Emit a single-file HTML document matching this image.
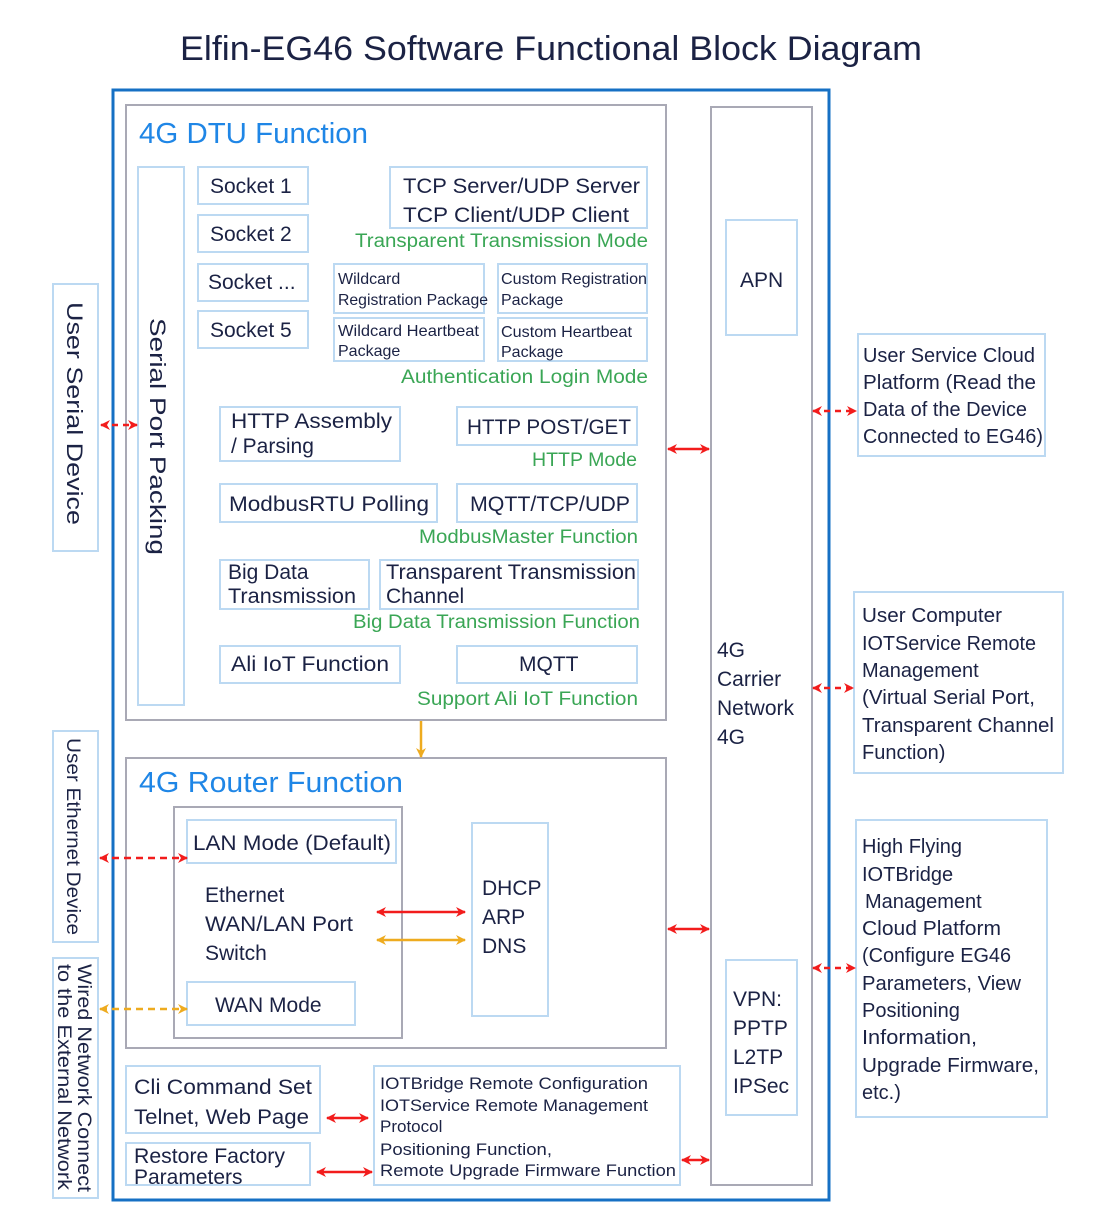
<!DOCTYPE html>
<html><head><meta charset="utf-8"><style>
html,body{margin:0;padding:0;background:#fff;}
svg{display:block;}
text{font-family:"Liberation Sans",sans-serif;fill:#1b2244;}
.g{fill:#3aa655;}
.b{fill:#1f86e6;}
</style></head><body>
<svg width="1100" height="1228" viewBox="0 0 1100 1228" xmlns="http://www.w3.org/2000/svg">
<defs>
<marker id="r" viewBox="0 0 10 10" refX="9" refY="5" markerWidth="4" markerHeight="4" orient="auto-start-reverse"><path d="M0,0 L10,5 L0,10 L3,5 z" fill="#f21c1c"/></marker>
<marker id="o" viewBox="0 0 10 10" refX="9" refY="5" markerWidth="4" markerHeight="4" orient="auto-start-reverse"><path d="M0,0 L10,5 L0,10 L3,5 z" fill="#eeab1f"/></marker>
</defs>
<text x="551" y="60" font-size="34" text-anchor="middle" textLength="742" lengthAdjust="spacingAndGlyphs">Elfin-EG46 Software Functional Block Diagram</text>

<g fill="none">
<rect x="113" y="90" width="716" height="1110" stroke="#1670c4" stroke-width="3"/>
<rect x="126" y="105" width="540" height="615" stroke="#a9a9b5" stroke-width="2"/>
<rect x="711" y="107" width="101" height="1078" stroke="#a9a9b5" stroke-width="2"/>
<rect x="126" y="758" width="540" height="290" stroke="#a9a9b5" stroke-width="2"/>
<rect x="174" y="807" width="228" height="231" stroke="#a9a9b5" stroke-width="2"/>
<g stroke="#bcd9f2" stroke-width="2">
<rect x="726" y="220" width="71" height="115"/>
<rect x="726" y="960" width="71" height="155"/>
<rect x="138" y="167" width="46" height="538"/>
<rect x="198" y="167" width="110" height="37"/>
<rect x="198" y="215" width="110" height="37"/>
<rect x="198" y="264" width="110" height="37"/>
<rect x="198" y="311" width="110" height="37"/>
<rect x="390" y="167" width="257" height="61"/>
<rect x="334" y="264" width="150" height="49"/>
<rect x="498" y="264" width="149" height="49"/>
<rect x="334" y="318" width="150" height="43"/>
<rect x="498" y="318" width="149" height="43"/>
<rect x="220" y="407" width="180" height="54"/>
<rect x="457" y="407" width="180" height="38"/>
<rect x="220" y="484" width="217" height="38"/>
<rect x="457" y="484" width="180" height="38"/>
<rect x="220" y="560" width="149" height="49"/>
<rect x="380" y="560" width="258" height="49"/>
<rect x="220" y="646" width="180" height="37"/>
<rect x="457" y="646" width="180" height="37"/>
<rect x="187" y="820" width="209" height="43"/>
<rect x="187" y="982" width="168" height="43"/>
<rect x="472" y="823" width="76" height="193"/>
<rect x="126" y="1066" width="194" height="67"/>
<rect x="126" y="1143" width="184" height="42"/>
<rect x="374" y="1066" width="306" height="119"/>
<rect x="53" y="284" width="45" height="267"/>
<rect x="53" y="731" width="45" height="211"/>
<rect x="53" y="958" width="45" height="240"/>
<rect x="858" y="334" width="187" height="122"/>
<rect x="854" y="592" width="209" height="181"/>
<rect x="856" y="820" width="191" height="297"/>
</g>
</g>

<!-- arrows -->
<g fill="none" stroke-width="2.5">
<line x1="101" y1="425" x2="137" y2="425" stroke="#f21c1c" stroke-dasharray="6,5" marker-start="url(#r)" marker-end="url(#r)"/>
<line x1="668" y1="449" x2="709" y2="449" stroke="#f21c1c" marker-start="url(#r)" marker-end="url(#r)"/>
<line x1="813" y1="411" x2="856" y2="411" stroke="#f21c1c" stroke-dasharray="6,5" marker-start="url(#r)" marker-end="url(#r)"/>
<line x1="813" y1="688" x2="853" y2="688" stroke="#f21c1c" stroke-dasharray="6,5" marker-start="url(#r)" marker-end="url(#r)"/>
<line x1="813" y1="968" x2="855" y2="968" stroke="#f21c1c" stroke-dasharray="6,5" marker-start="url(#r)" marker-end="url(#r)"/>
<line x1="421" y1="721" x2="421" y2="757" stroke="#eeab1f" marker-end="url(#o)"/>
<line x1="668" y1="929" x2="709" y2="929" stroke="#f21c1c" marker-start="url(#r)" marker-end="url(#r)"/>
<line x1="100" y1="858" x2="187" y2="858" stroke="#f21c1c" stroke-dasharray="7,5" marker-start="url(#r)" marker-end="url(#r)"/>
<line x1="100" y1="1009" x2="187" y2="1009" stroke="#eeab1f" stroke-dasharray="7,5" marker-start="url(#o)" marker-end="url(#o)"/>
<line x1="377" y1="912" x2="465" y2="912" stroke="#f21c1c" marker-start="url(#r)" marker-end="url(#r)"/>
<line x1="377" y1="940" x2="465" y2="940" stroke="#eeab1f" marker-start="url(#o)" marker-end="url(#o)"/>
<line x1="327" y1="1118" x2="368" y2="1118" stroke="#f21c1c" marker-start="url(#r)" marker-end="url(#r)"/>
<line x1="317" y1="1172" x2="372" y2="1172" stroke="#f21c1c" marker-start="url(#r)" marker-end="url(#r)"/>
<line x1="682" y1="1160" x2="709" y2="1160" stroke="#f21c1c" marker-start="url(#r)" marker-end="url(#r)"/>
</g>

<!-- titles -->
<text class="b" x="139" y="143" font-size="29" textLength="229" lengthAdjust="spacingAndGlyphs">4G DTU Function</text>
<text class="b" x="139" y="792" font-size="29" textLength="264" lengthAdjust="spacingAndGlyphs">4G Router Function</text>

<g font-size="21">
<text x="210" y="193">Socket 1</text>
<text x="210" y="241">Socket 2</text>
<text x="208" y="289">Socket ...</text>
<text x="210" y="337">Socket 5</text>
<text x="403" y="193" textLength="237" lengthAdjust="spacingAndGlyphs">TCP Server/UDP Server</text>
<text x="403" y="222" textLength="226" lengthAdjust="spacingAndGlyphs">TCP Client/UDP Client</text>
<text x="231" y="428" textLength="161" lengthAdjust="spacingAndGlyphs">HTTP Assembly</text>
<text x="231" y="453">/ Parsing</text>
<text x="467" y="434" textLength="164" lengthAdjust="spacingAndGlyphs">HTTP POST/GET</text>
<text x="229" y="511" textLength="200" lengthAdjust="spacingAndGlyphs">ModbusRTU Polling</text>
<text x="470" y="511" textLength="160" lengthAdjust="spacingAndGlyphs">MQTT/TCP/UDP</text>
<text x="228" y="579">Big Data</text>
<text x="228" y="603" textLength="128" lengthAdjust="spacingAndGlyphs">Transmission</text>
<text x="386" y="579" textLength="250" lengthAdjust="spacingAndGlyphs">Transparent Transmission</text>
<text x="386" y="603">Channel</text>
<text x="231" y="671" textLength="158" lengthAdjust="spacingAndGlyphs">Ali IoT Function</text>
<text x="519" y="671">MQTT</text>
<text x="193" y="850" textLength="198" lengthAdjust="spacingAndGlyphs">LAN Mode (Default)</text>
<text x="205" y="902">Ethernet</text>
<text x="205" y="931" textLength="148" lengthAdjust="spacingAndGlyphs">WAN/LAN Port</text>
<text x="205" y="960">Switch</text>
<text x="215" y="1012">WAN Mode</text>
<text x="482" y="895">DHCP</text>
<text x="482" y="924">ARP</text>
<text x="482" y="953">DNS</text>
<text x="134" y="1094" textLength="178" lengthAdjust="spacingAndGlyphs">Cli Command Set</text>
<text x="134" y="1124" textLength="175" lengthAdjust="spacingAndGlyphs">Telnet, Web Page</text>
<text x="134" y="1163" textLength="151" lengthAdjust="spacingAndGlyphs">Restore Factory</text>
<text x="134" y="1184">Parameters</text>
<text x="740" y="287">APN</text>
<text x="733" y="1006">VPN:</text>
<text x="733" y="1035">PPTP</text>
<text x="733" y="1064">L2TP</text>
<text x="733" y="1093">IPSec</text>
<text x="717" y="657">4G</text>
<text x="717" y="686">Carrier</text>
<text x="717" y="715">Network</text>
<text x="717" y="744">4G</text>
</g>
<g font-size="16">
<text x="338" y="284">Wildcard</text>
<text x="338" y="305" textLength="150" lengthAdjust="spacingAndGlyphs">Registration Package</text>
<text x="501" y="284" textLength="146" lengthAdjust="spacingAndGlyphs">Custom Registration</text>
<text x="501" y="305">Package</text>
<text x="338" y="336" textLength="141" lengthAdjust="spacingAndGlyphs">Wildcard Heartbeat</text>
<text x="338" y="356">Package</text>
<text x="501" y="337" textLength="131" lengthAdjust="spacingAndGlyphs">Custom Heartbeat</text>
<text x="501" y="357">Package</text>
</g>
<g font-size="17">
<text x="380" y="1089" textLength="268" lengthAdjust="spacingAndGlyphs">IOTBridge Remote Configuration</text>
<text x="380" y="1111" textLength="268" lengthAdjust="spacingAndGlyphs">IOTService Remote Management</text>
<text x="380" y="1132">Protocol</text>
<text x="380" y="1155" textLength="172" lengthAdjust="spacingAndGlyphs">Positioning Function,</text>
<text x="380" y="1176" textLength="296" lengthAdjust="spacingAndGlyphs">Remote Upgrade Firmware Function</text>
</g>
<g font-size="19" class="g">
<text class="g" x="648" y="247" text-anchor="end" textLength="293" lengthAdjust="spacingAndGlyphs">Transparent Transmission Mode</text>
<text class="g" x="648" y="383" text-anchor="end" textLength="247" lengthAdjust="spacingAndGlyphs">Authentication Login Mode</text>
<text class="g" x="637" y="466" text-anchor="end" textLength="105" lengthAdjust="spacingAndGlyphs">HTTP Mode</text>
<text class="g" x="638" y="543" text-anchor="end" textLength="219" lengthAdjust="spacingAndGlyphs">ModbusMaster Function</text>
<text class="g" x="640" y="628" text-anchor="end" textLength="287" lengthAdjust="spacingAndGlyphs">Big Data Transmission Function</text>
<text class="g" x="638" y="705" text-anchor="end" textLength="221" lengthAdjust="spacingAndGlyphs">Support Ali IoT Function</text>
</g>
<g font-size="20">
<text x="863" y="362" textLength="172" lengthAdjust="spacingAndGlyphs">User Service Cloud</text>
<text x="863" y="389" textLength="173" lengthAdjust="spacingAndGlyphs">Platform (Read the</text>
<text x="863" y="416" textLength="164" lengthAdjust="spacingAndGlyphs">Data of the Device</text>
<text x="863" y="443" textLength="180" lengthAdjust="spacingAndGlyphs">Connected to EG46)</text>
<text x="862" y="622" textLength="140" lengthAdjust="spacingAndGlyphs">User Computer</text>
<text x="862" y="650" textLength="174" lengthAdjust="spacingAndGlyphs">IOTService Remote</text>
<text x="862" y="677">Management</text>
<text x="862" y="704" textLength="173" lengthAdjust="spacingAndGlyphs">(Virtual Serial Port,</text>
<text x="862" y="732" textLength="192" lengthAdjust="spacingAndGlyphs">Transparent Channel</text>
<text x="862" y="759">Function)</text>
<text x="862" y="853">High Flying</text>
<text x="862" y="881">IOTBridge</text>
<text x="865" y="908">Management</text>
<text x="862" y="935" textLength="139" lengthAdjust="spacingAndGlyphs">Cloud Platform</text>
<text x="862" y="962" textLength="149" lengthAdjust="spacingAndGlyphs">(Configure EG46</text>
<text x="862" y="990" textLength="159" lengthAdjust="spacingAndGlyphs">Parameters, View</text>
<text x="862" y="1017">Positioning</text>
<text x="862" y="1044" textLength="115" lengthAdjust="spacingAndGlyphs">Information,</text>
<text x="862" y="1072" textLength="177" lengthAdjust="spacingAndGlyphs">Upgrade Firmware,</text>
<text x="862" y="1099">etc.)</text>
</g>
<!-- vertical -->
<text transform="translate(150,318) rotate(90)" font-size="22" textLength="237" lengthAdjust="spacingAndGlyphs">Serial Port Packing</text>
<text transform="translate(67,302) rotate(90)" font-size="22" textLength="223" lengthAdjust="spacingAndGlyphs">User Serial Device</text>
<text transform="translate(67,738) rotate(90)" font-size="19" textLength="197" lengthAdjust="spacingAndGlyphs">User Ethernet Device</text>
<text transform="translate(78,964) rotate(90)" font-size="19" textLength="228" lengthAdjust="spacingAndGlyphs">Wired Network Connect</text>
<text transform="translate(58,964) rotate(90)" font-size="19" textLength="226" lengthAdjust="spacingAndGlyphs">to the External Network</text>
</svg>
</body></html>
